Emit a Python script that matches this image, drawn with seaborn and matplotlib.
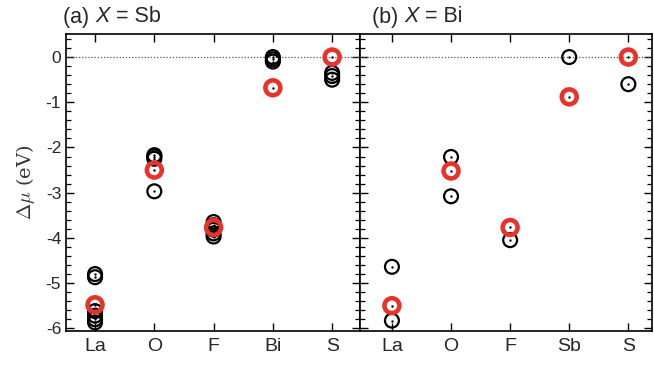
import matplotlib
matplotlib.use("Agg")
import matplotlib.pyplot as plt
import seaborn as sns
import pandas as pd
from matplotlib.ticker import MultipleLocator

sns.set_theme(style="ticks")
plt.rcParams["font.family"] = ["Liberation Sans", "DejaVu Sans"]
plt.rcParams["mathtext.fontset"] = "cm"

# Panel (a): X = Sb
cats_a = ["La", "O", "F", "Bi", "S"]
black_a_x = ["La", "La", "La", "La", "La", "La",
             "O", "O", "O", "O",
             "F", "F", "F", "F", "F",
             "Bi", "Bi", "Bi",
             "S", "S", "S"]
black_a_y = [-4.80, -4.87, -5.62, -5.72, -5.80, -5.87,
             -2.17, -2.20, -2.25, -2.97,
             -3.65, -3.72, -3.82, -3.90, -3.97,
             0.00, -0.05, -0.10,
             -0.35, -0.42, -0.50]
red_a_x = ["La", "O", "F", "Bi", "S"]
red_a_y = [-5.48, -2.50, -3.77, -0.68, 0.00]

# Panel (b): X = Bi
cats_b = ["La", "O", "F", "Sb", "S"]
black_b_x = ["La", "La", "O", "O", "F", "Sb", "S"]
black_b_y = [-4.64, -5.83, -2.21, -3.08, -4.05, 0.00, -0.60]
red_b_x = ["La", "O", "F", "Sb", "S"]
red_b_y = [-5.50, -2.52, -3.77, -0.88, 0.00]

yticks = [-6, -5, -4, -3, -2, -1, 0]

W, H = 654, 368
fig = plt.figure(figsize=(W / 100, H / 100), dpi=100)
ax_a = fig.add_axes([66 / W, (H - 331) / H, 294 / W, 297 / H])
ax_b = fig.add_axes([360 / W, (H - 331) / H, 292 / W, 297 / H])

red = "#e8332b"


def draw_panel(ax, cats, bx, by, rx, ry, xlim):
    pos = {c: i for i, c in enumerate(cats)}
    dfb = pd.DataFrame({"x": [pos[c] for c in bx], "y": by})
    dfr = pd.DataFrame({"x": [pos[c] for c in rx], "y": ry})
    ax.axhline(0, color="#555555", lw=0.9, ls=(0, (1, 1.5)), zorder=1)
    sns.scatterplot(data=dfb, x="x", y="y", ax=ax, marker="o", s=100,
                    facecolors="none", edgecolor="black", linewidth=1.6,
                    zorder=3, legend=False)
    sns.scatterplot(data=dfb, x="x", y="y", ax=ax, marker="o", s=3,
                    color="black", linewidth=0, zorder=3, legend=False)
    sns.scatterplot(data=dfr, x="x", y="y", ax=ax, marker="o", s=115,
                    facecolors="none", edgecolor=red, linewidth=3.3,
                    zorder=4, legend=False)
    sns.scatterplot(data=dfr, x="x", y="y", ax=ax, marker="o", s=3,
                    color="black", linewidth=0, zorder=5, legend=False)
    ax.set_xlim(*xlim)
    ax.set_ylim(-6.06, 0.51)
    ax.set_xticks(range(len(cats)))
    ax.set_xticklabels(cats, fontsize=14)
    ax.yaxis.set_major_locator(MultipleLocator(1))
    ax.yaxis.set_minor_locator(MultipleLocator(0.2))
    ax.tick_params(axis="both", which="major", direction="in", length=6,
                   width=1.0, top=True, right=True, color="black")
    ax.tick_params(axis="y", which="minor", direction="in", length=3.5,
                   width=0.9, left=True, right=True, color="black")
    ax.tick_params(axis="x", which="major", pad=5)
    ax.set_xlabel("")
    ax.set_ylabel("")
    for sp in ax.spines.values():
        sp.set_linewidth(1.2)
        sp.set_color("black")


draw_panel(ax_a, cats_a, black_a_x, black_a_y, red_a_x, red_a_y, (-0.49, 4.47))
draw_panel(ax_b, cats_b, black_b_x, black_b_y, red_b_x, red_b_y, (-0.54, 4.4))

ax_a.set_yticks(yticks)
ax_a.set_yticklabels([str(v) for v in yticks], fontsize=12.5)
ax_b.set_yticks(yticks)
ax_b.set_yticklabels([])

ax_a.set_ylabel(r"$\Delta\mu$ (eV)", fontsize=14, family="DejaVu Serif",
                color="#333333", labelpad=6)


def panel_title(x_px, tag, element):
    """Write '(tag) X = element' with an italic sans-serif X."""
    renderer = fig.canvas.get_renderer()
    y = 1 - 17 / H
    x = x_px / W
    for piece, style in ((f"({tag}) ", "normal"), ("X", "italic"),
                         (f" = {element}", "normal")):
        t = fig.text(x, y, piece, fontsize=15.5, style=style,
                     va="center", ha="left")
        bb = t.get_window_extent(renderer)
        x += bb.width / W


panel_title(63, "a", "Sb")
panel_title(372, "b", "Bi")

fig.savefig("out.png", dpi=100)
